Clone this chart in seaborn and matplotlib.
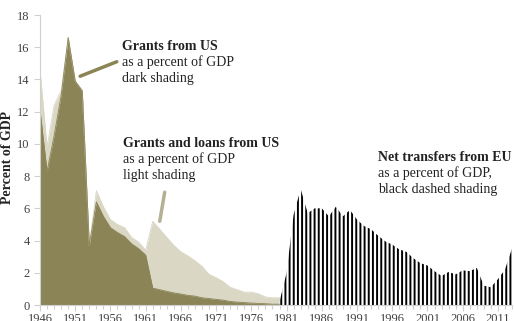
import numpy as np
import pandas as pd
import matplotlib
matplotlib.use("Agg")
import matplotlib.pyplot as plt
import seaborn as sns

# ================= DATA =================
anos_us = list(range(1946, 1981))
# Grants from US (% of GDP) - dark shading
grants_us = [12.1, 8.3, 10.5, 13.0, 16.6, 13.9, 13.3, 3.7, 6.4, 5.5,
             4.8, 4.5, 4.25, 3.8, 3.5, 3.1, 1.05, 0.95, 0.85, 0.75,
             0.68, 0.6, 0.55, 0.45, 0.4, 0.35, 0.3, 0.22, 0.18, 0.15,
             0.12, 0.1, 0.08, 0.05, 0.05]
# Grants and loans from US (% of GDP) - light shading
grants_loans_us = [14.6, 9.8, 12.4, 13.3, 16.6, 13.9, 13.3, 3.7, 7.1, 6.1,
                   5.3, 5.0, 4.8, 4.2, 3.9, 3.4, 5.2, 4.7, 4.2, 3.7,
                   3.3, 3.05, 2.75, 2.4, 1.9, 1.7, 1.45, 1.1, 0.95, 0.8,
                   0.8, 0.7, 0.5, 0.45, 0.45]

anos_eu = list(range(1980, 2014))
# Net transfers from EU (% of GDP) - black dashed shading
transf_eu = [0.2, 2.0, 5.6, 7.2, 5.7, 6.0, 6.0, 5.5, 6.1, 5.5,
             5.9, 5.3, 4.9, 4.7, 4.3, 3.95, 3.75, 3.45, 3.3, 2.9,
             2.6, 2.45, 2.1, 1.8, 2.05, 1.9, 2.15, 2.1, 2.3, 1.2,
             1.1, 1.6, 2.2, 3.5]

y_ticks = list(range(0, 19, 2))
x_ticks = list(range(1946, 2014, 5))

# ================= STYLE =================
COR_ESCURA = '#8B8456'
COR_CLARA = '#DAD7C5'
COR_EIXO = '#D0D0D0'
COR_TEXTO = '#404040'

sns.set_theme(style="white")
plt.rcParams['font.family'] = ['Liberation Serif', 'DejaVu Serif']
plt.rcParams['hatch.linewidth'] = 1.4

df_us = pd.DataFrame({'ano': anos_us, 'grants': grants_us, 'loans': grants_loans_us})
df_eu = pd.DataFrame({'ano': anos_eu, 'eu': transf_eu})

fig = plt.figure(figsize=(5.14, 3.21), dpi=100)
ax = fig.add_axes([40 / 514, 16 / 321, 472 / 514, 290 / 321])

# light = grants and loans, dark = grants only
ax.fill_between(df_us['ano'], df_us['loans'], color=COR_CLARA, linewidth=0)
ax.fill_between(df_us['ano'], df_us['grants'], color=COR_ESCURA, linewidth=0)
sns.lineplot(data=df_us, x='ano', y='loans', color=COR_CLARA, linewidth=0.6, ax=ax)
sns.lineplot(data=df_us, x='ano', y='grants', color=COR_ESCURA, linewidth=0.6, ax=ax)

# EU: vertical line hatch
ax.fill_between(df_eu['ano'], df_eu['eu'], facecolor='white', edgecolor='black',
                hatch='||||', linewidth=0)

ax.set_xlim(1946, 2013)
ax.set_ylim(0, 18)
ax.set_yticks(y_ticks)
ax.set_xticks(x_ticks)
ax.set_xticks(range(1946, 2014), minor=True)
ax.tick_params(axis='both', labelsize=9, colors=COR_TEXTO, length=4, width=0.8,
               direction='out', bottom=True, left=True)
ax.tick_params(axis='x', which='minor', length=3, width=0.8, colors=COR_EIXO,
               direction='out', bottom=True)
ax.tick_params(axis='x', which='major', color=COR_EIXO, pad=1.5)
ax.tick_params(axis='y', color=COR_EIXO)
ax.set_xlabel('')
ax.set_ylabel('Percent of GDP', fontsize=10, fontweight='bold', color='#222222')
ax.yaxis.set_label_coords(-0.056, 0.51)
sns.despine(ax=ax)
for lado in ['left', 'bottom']:
    ax.spines[lado].set_color(COR_EIXO)
    ax.spines[lado].set_linewidth(0.8)

# ================= ANNOTATIONS =================
kw = dict(transform=ax.transData, fontsize=10, color='#222222', va='baseline')
ax.text(1957.6, 15.85, 'Grants from US', fontweight='bold', **kw)
ax.text(1957.6, 14.85, 'as a percent of GDP', **kw)
ax.text(1957.6, 13.85, 'dark shading', **kw)

ax.text(1957.8, 9.8, 'Grants and loans from US', fontweight='bold', **kw)
ax.text(1957.8, 8.8, 'as a percent of GDP', **kw)
ax.text(1957.8, 7.8, 'light shading', **kw)

ax.text(1994.0, 8.95, 'Net transfers from EU', fontweight='bold', **kw)
ax.text(1994.0, 7.95, 'as a percent of GDP,', **kw)
ax.text(1994.0, 6.95, 'black dashed shading', **kw)

ax.plot([1951.7, 1956.9], [14.2, 15.1], color=COR_ESCURA, linewidth=2.5,
        solid_capstyle='round')
ax.plot([1963.7, 1963.0], [7.0, 5.2], color='#B4B094', linewidth=2.5,
        solid_capstyle='round')

fig.savefig('out.png', dpi=100)
